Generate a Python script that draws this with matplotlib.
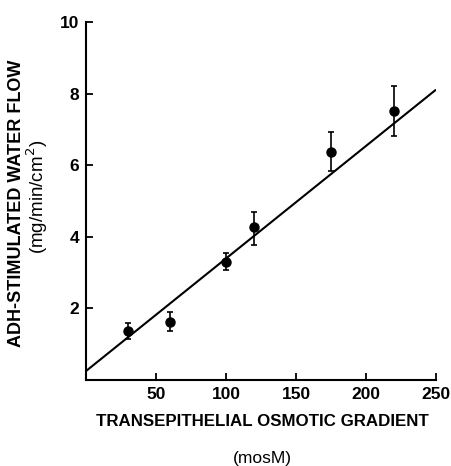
import numpy as np
import matplotlib.pyplot as plt

# osmotic gradient (mosM) and ADH-stimulated water flow (mg/min/cm2)
gradient = [30, 60, 100, 120, 175, 220]
flow = [1.37, 1.63, 3.29, 4.26, 6.37, 7.52]
err_hi = [1.60, 1.91, 3.54, 4.70, 6.92, 8.20]
err_lo = [1.15, 1.37, 3.06, 3.78, 5.85, 6.81]

# regression line end points
fit_x = [0, 250]
fit_y = [0.25, 8.11]

x_ticks = [50, 100, 150, 200, 250]
y_ticks = [2, 4, 6, 8, 10]

plt.rcParams["font.family"] = ["Liberation Sans", "DejaVu Sans"]

W, H = 451, 466
fig = plt.figure(figsize=(W / 100, H / 100), dpi=100)
ax = fig.add_axes([86 / W, 1 - 380 / H, 350 / W, 358 / H])

flow = np.array(flow)
yerr = [flow - np.array(err_lo), np.array(err_hi) - flow]

ax.plot(fit_x, fit_y, color="black", lw=1.5, solid_capstyle="butt")
ax.errorbar(gradient, flow, yerr=yerr, fmt="o", color="black", ms=6.5,
            elinewidth=1.2, capsize=2.5, capthick=1.2)

ax.set_xlim(0, 250)
ax.set_ylim(0, 10)
ax.set_xticks(x_ticks)
ax.set_yticks(y_ticks)
ax.spines["top"].set_visible(False)
ax.spines["right"].set_visible(False)
for s in ["left", "bottom"]:
    ax.spines[s].set_linewidth(1.5)
ax.tick_params(direction="in", length=5, width=1.3, labelsize=12.5, pad=5)
for lab in ax.get_xticklabels() + ax.get_yticklabels():
    lab.set_fontweight("bold")

fig.text(262 / W, 1 - 422 / H, "TRANSEPITHELIAL OSMOTIC GRADIENT",
         ha="center", va="center", fontsize=12.2, fontweight="bold")
fig.text(262 / W, 1 - 458 / H, "(mosM)", ha="center", va="center", fontsize=12.5)
fig.text(17 / W, 1 - 203 / H, "ADH-STIMULATED WATER FLOW", rotation=90,
         ha="center", va="center", fontsize=13, fontweight="bold")
fig.text(37 / W, 1 - 197 / H, "(mg/min/cm$^2$)", rotation=90,
         ha="center", va="center", fontsize=13.5)

fig.savefig("out.png", dpi=100)
